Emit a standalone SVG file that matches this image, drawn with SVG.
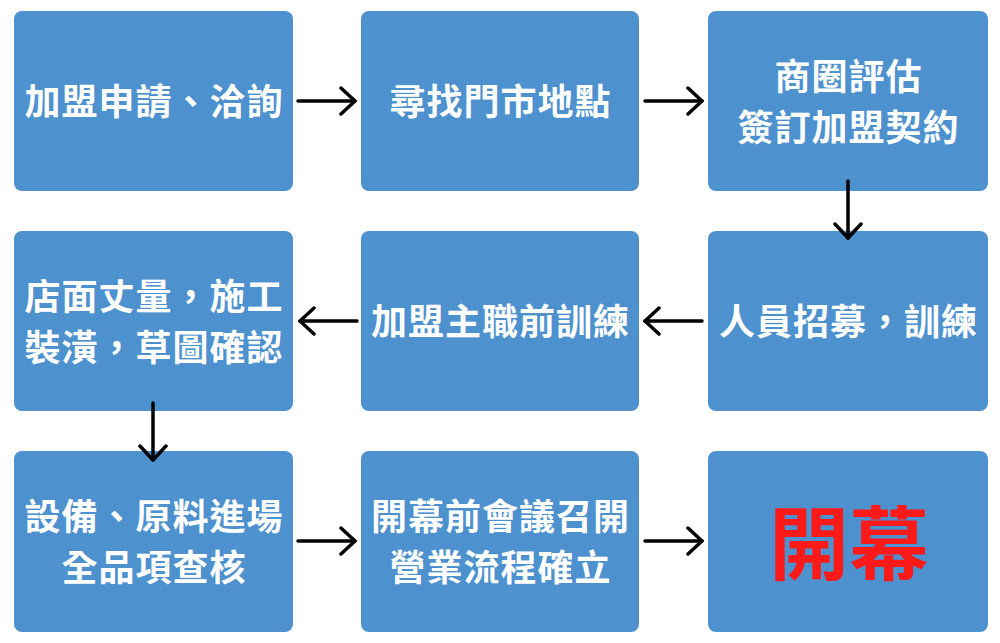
<svg xmlns="http://www.w3.org/2000/svg" width="1000" height="643" viewBox="0 0 1000 643">
<style>
.box{fill:#4d91cf;}
.t{font-family:"Noto Sans CJK TC","Noto Sans CJK SC",sans-serif;font-weight:700;font-size:36px;fill:#ffffff;text-anchor:middle;letter-spacing:1px;}
.big{font-family:"Noto Sans CJK TC","Noto Sans CJK SC",sans-serif;font-weight:700;font-size:80px;fill:#ff1a1a;text-anchor:middle;}
.c{stroke:#000;stroke-width:3.5;fill:none;stroke-linecap:round;marker-end:url(#ah);}
</style>
<defs>
<marker id="ah" viewBox="0 0 20 30" refX="17" refY="15" markerWidth="20" markerHeight="30" markerUnits="userSpaceOnUse" orient="auto">
<path d="M3,2 L17,15 L3,28" fill="none" stroke="#000" stroke-width="3.5" stroke-linecap="round" stroke-linejoin="round"/>
</marker>
</defs>
<rect width="1000" height="643" fill="#ffffff"/>
<g id="n1"><rect class="box" x="14" y="11" width="279" height="180" rx="8"/><text class="t" x="154" y="114.5">加盟申請、洽詢</text></g>
<g id="n2"><rect class="box" x="361" y="11" width="278" height="180" rx="8"/><text class="t" x="500.5" y="114.5">尋找門市地點</text></g>
<g id="n3"><rect class="box" x="708" y="11" width="280" height="180" rx="8"/><text class="t" x="848.5" y="89.5">商圈評估</text><text class="t" x="848.5" y="141">簽訂加盟契約</text></g>
<g id="n4"><rect class="box" x="14" y="231" width="279" height="180" rx="8"/><text class="t" x="154" y="309.5">店面丈量，施工</text><text class="t" x="154" y="361">裝潢，草圖確認</text></g>
<g id="n5"><rect class="box" x="361" y="231" width="278" height="180" rx="8"/><text class="t" x="500.5" y="335">加盟主職前訓練</text></g>
<g id="n6"><rect class="box" x="708" y="231" width="280" height="180" rx="8"/><text class="t" x="848.5" y="335">人員招募，訓練</text></g>
<g id="n7"><rect class="box" x="14" y="451" width="279" height="181" rx="8"/><text class="t" x="154" y="529.5">設備、原料進場</text><text class="t" x="154" y="581">全品項查核</text></g>
<g id="n8"><rect class="box" x="361" y="451" width="278" height="181" rx="8"/><text class="t" x="500.5" y="529.5">開幕前會議召開</text><text class="t" x="500.5" y="581">營業流程確立</text></g>
<g id="n9"><rect class="box" x="708" y="451" width="280" height="181" rx="8"/><text class="big" x="849" y="573">開幕</text></g>
<g id="connectors">
<line class="c" x1="298" y1="101" x2="355" y2="101"/>
<line class="c" x1="645" y1="101" x2="702" y2="101"/>
<line class="c" x1="848" y1="181" x2="848" y2="238"/>
<line class="c" x1="702" y1="321" x2="645" y2="321"/>
<line class="c" x1="357" y1="321" x2="300" y2="321"/>
<line class="c" x1="153" y1="403" x2="153" y2="460"/>
<line class="c" x1="298" y1="541" x2="355" y2="541"/>
<line class="c" x1="645" y1="541" x2="702" y2="541"/>
</g>
</svg>
